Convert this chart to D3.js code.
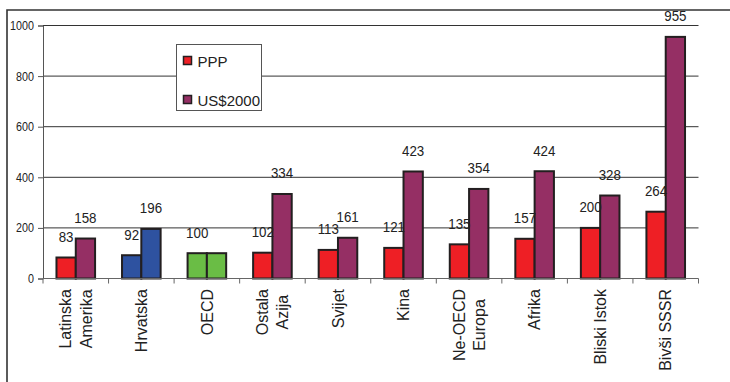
<!DOCTYPE html>
<html>
<head>
<meta charset="utf-8">
<script src="https://cdn.jsdelivr.net/npm/d3@7/dist/d3.min.js"></script>
<style>
  html, body { margin: 0; padding: 0; background: #fff; }
  svg { display: block; font-family: Arial, "Liberation Sans", sans-serif; }
</style>
</head>
<body>
<svg id="chart" width="730" height="382"></svg>
<script>
// Regions (multi-line labels split on "\n")
const categories = [
  "Latinska\nAmerika", "Hrvatska", "OECD", "Ostala\nAzija", "Svijet",
  "Kina", "Ne-OECD\nEuropa", "Afrika", "Bliski Istok", "Bivši SSSR"
];
// Index values, OECD = 100
const pppValues = [83, 92, 100, 102, 113, 121, 135, 157, 200, 264];
const usdValues = [158, 196, 100, 334, 161, 423, 354, 424, 328, 955];
const seriesNames = ["PPP", "US$2000"];
const yTicks = [0, 200, 400, 600, 800, 1000];

// Colours
const seriesColors = ["#ee1f25", "#952f64"];
const highlightColors = { "Hrvatska": "#2e52a0", "OECD": "#6abd45" };

const svg = d3.select("#chart");
const plot = { left: 43, right: 698.5, top: 25.5, bottom: 278.5 };

// Frame
svg.append("path")
  .attr("d", "M7,382 V10 H730")
  .attr("fill", "none").attr("stroke", "#333").attr("stroke-width", 1.6);

const x = d3.scaleBand().domain(d3.range(categories.length))
  .range([plot.left, plot.right]).paddingInner(0).paddingOuter(0);
const barW = 19.3;
const x1 = d3.scaleBand().domain([0, 1]).range([-barW, barW]);
const y = d3.scaleLinear().domain([0, 1000]).range([plot.bottom, plot.top]);

// Gridlines
svg.append("g").selectAll("line").data(yTicks.filter(d => d > 0)).join("line")
  .attr("x1", plot.left).attr("x2", plot.right)
  .attr("y1", d => y(d)).attr("y2", d => y(d))
  .attr("stroke", "#333").attr("stroke-width", 1);

// Y axis
const yAxis = svg.append("g").attr("transform", `translate(${plot.left},0)`)
  .call(d3.axisLeft(y).tickValues(yTicks).tickSize(5).tickPadding(4).tickFormat(d3.format("d")));
yAxis.select(".domain").attr("stroke", "#555");
yAxis.selectAll(".tick line").attr("stroke", "#555");
yAxis.selectAll(".tick text")
  .attr("font-size", 12.5).attr("fill", "#222")
  .attr("font-family", "Arial, 'Liberation Sans', sans-serif")
  .each(function () {
    const t = d3.select(this);
    const xx = +t.attr("x");
    t.attr("x", null).attr("transform", `translate(${xx},0) scale(0.86,1)`);
  });

// Bars
const rows = categories.map((c, i) => ({ c, i, vals: [pppValues[i], usdValues[i]] }));
const groups = svg.append("g").selectAll("g").data(rows).join("g")
  .attr("transform", d => `translate(${x(d.i) + x.bandwidth() / 2},0)`);

groups.selectAll("rect").data(d => d.vals.map((v, s) => ({ v, s, c: d.c }))).join("rect")
  .attr("x", d => x1(d.s))
  .attr("width", x1.bandwidth())
  .attr("y", d => y(d.v))
  .attr("height", d => y(0) - y(d.v))
  .attr("fill", d => highlightColors[d.c] || seriesColors[d.s])
  .attr("stroke", "#231f20").attr("stroke-width", 2);

// Value labels (a repeated value is written once)
groups.selectAll("text.val")
  .data(d => d.vals.map((v, s) => ({ v, s })).filter((e, k, arr) => k === 0 || e.v !== arr[0].v))
  .join("text").attr("class", "val")
  .attr("transform", d => `translate(${x1(d.s) + x1.bandwidth() / 2},${y(d.v) - 15.5}) scale(0.86,1)`)
  .attr("text-anchor", "middle")
  .attr("font-size", 15.5).attr("fill", "#222")
  .text(d => d.v);

// X axis
const xAxis = svg.append("g").attr("transform", `translate(0,${plot.bottom})`);
xAxis.append("line").attr("x1", plot.left).attr("x2", plot.right)
  .attr("stroke", "#666").attr("stroke-width", 1.2);
xAxis.selectAll("line.tk").data(d3.range(categories.length + 1)).join("line").attr("class", "tk")
  .attr("x1", d => plot.left + d * x.bandwidth()).attr("x2", d => plot.left + d * x.bandwidth())
  .attr("y1", 0).attr("y2", 5).attr("stroke", "#666");

// Category labels, rotated; lines of one label are centred against each other
const lineGap = 20.5;
rows.forEach(d => {
  const lines = d.c.split("\n");
  const cx = x(d.i) + x.bandwidth() / 2;
  const nodes = lines.map((line, k) => {
    const off = (k - (lines.length - 1) / 2) * lineGap;
    return svg.append("text")
      .attr("transform", `translate(${cx + off},289) rotate(-90)`)
      .attr("text-anchor", "end")
      .attr("dy", "0.36em")
      .attr("font-size", 16).attr("fill", "#222")
      .text(line)
      .node();
  });
  const lens = nodes.map(n => n.getComputedTextLength());
  const m = d3.max(lens);
  nodes.forEach((n, k) => n.setAttribute("x", -(m - lens[k]) / 2));
});

// Legend
const lg = svg.append("g").attr("transform", "translate(176.5,44.5)");
lg.append("rect").attr("width", 85).attr("height", 66)
  .attr("fill", "#fff").attr("stroke", "#555").attr("stroke-width", 1);
seriesNames.forEach((name, k) => {
  lg.append("rect").attr("x", 7).attr("y", 12 + k * 39).attr("width", 8).attr("height", 8)
    .attr("fill", seriesColors[k]).attr("stroke", "#231f20").attr("stroke-width", 1.5);
  lg.append("text").attr("x", 21).attr("y", 22 + k * 39)
    .attr("font-size", 15).attr("fill", "#222").text(name);
});
</script>
</body>
</html>
